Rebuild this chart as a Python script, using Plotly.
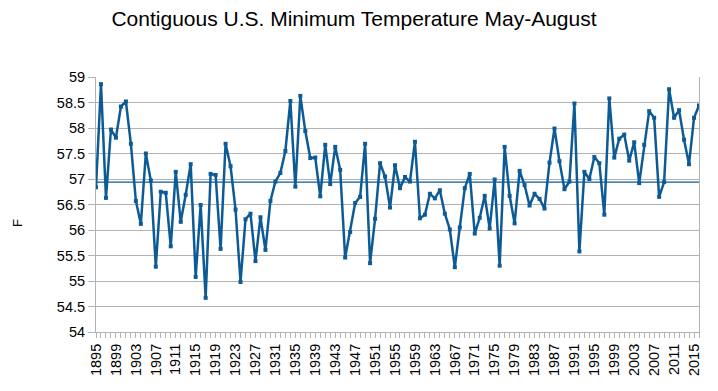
import plotly.graph_objects as go

start_year = 1895
temps = [
    56.84, 58.86, 56.63, 57.97, 57.81, 58.42, 58.52, 57.69, 56.57, 56.12,
    57.50, 56.97, 55.28, 56.75, 56.73, 55.68, 57.14, 56.16, 56.69, 57.29,
    55.08, 56.49, 54.67, 57.10, 57.08, 55.63, 57.69, 57.25, 56.40, 54.98,
    56.21, 56.32, 55.39, 56.25, 55.61, 56.57, 56.95, 57.12, 57.55, 58.53,
    56.85, 58.63, 57.94, 57.41, 57.42, 56.66, 57.67, 56.90, 57.63, 57.18,
    55.46, 55.96, 56.53, 56.65, 57.69, 55.35, 56.22, 57.31, 57.05, 56.44,
    57.27, 56.82, 57.04, 56.95, 57.73, 56.23, 56.30, 56.71, 56.62, 56.78,
    56.32, 56.01, 55.27, 56.05, 56.82, 57.10, 55.93, 56.24, 56.67, 56.03,
    56.99, 55.30, 57.63, 56.67, 56.13, 57.16, 56.88, 56.48, 56.71, 56.61,
    56.42, 57.32, 57.99, 57.35, 56.80, 56.95, 58.48, 55.58, 57.14, 57.00,
    57.43, 57.31, 56.30, 58.58, 57.42, 57.79, 57.87, 57.36, 57.72, 56.92,
    57.67, 58.33, 58.20, 56.65, 56.94, 58.76, 58.20, 58.35, 57.77, 57.29,
    58.20, 58.44,
]
years = list(range(start_year, start_year + len(temps)))
mean_value = 56.94
label_years = [y for y in years if (y - start_year) % 4 == 0]
y_ticks = [54 + 0.5 * i for i in range(11)]

color = "#0d5b96"
grid = "#b3b3b3"
font = "Liberation Sans, Arial, sans-serif"

fig = go.Figure()
fig.add_trace(go.Scatter(
    x=years, y=[mean_value] * len(years), mode="lines",
    line=dict(color=color, width=1.3), hoverinfo="skip", showlegend=False,
))
fig.add_trace(go.Scatter(
    x=years, y=temps, mode="lines+markers",
    line=dict(color=color, width=2.5),
    marker=dict(color=color, size=4, symbol="square"),
    showlegend=False,
))

fig.update_layout(
    width=718, height=391,
    margin=dict(l=88, r=27, t=69, b=67),
    paper_bgcolor="white", plot_bgcolor="white",
    font=dict(family=font, size=14.5, color="black"),
    title=dict(text="Contiguous U.S. Minimum Temperature May-August",
               x=346 / 718, xref="container", xanchor="center",
               y=1 - 11 / 391, yanchor="middle",
               font=dict(size=21, family=font, color="black")),
    xaxis=dict(
        range=[start_year, years[-1]],
        tickmode="array", tickvals=label_years, ticktext=[str(y) for y in label_years],
        tickangle=-90, ticks="outside", ticklen=5, tickcolor=grid,
        minor=dict(dtick=1, ticks="outside", ticklen=5, tickcolor=grid, showgrid=False),
        showgrid=False, showline=True, linecolor=grid, linewidth=1,
        zeroline=False, tickfont=dict(size=14.5),
    ),
    yaxis=dict(
        range=[54, 59], tickmode="array", tickvals=y_ticks,
        ticktext=[f"{v:g}" for v in y_ticks],
        ticks="outside", ticklen=7, tickcolor=grid,
        showgrid=True, gridcolor=grid, gridwidth=1,
        showline=True, linecolor=grid, linewidth=1, mirror=True,
        zeroline=False, tickfont=dict(size=14.5),
    ),
    annotations=[dict(
        text="F", textangle=-90, xref="paper", yref="paper",
        x=-(88 - 9) / 603, y=(391 - 67 - 215) / 255, xanchor="center", yanchor="middle",
        showarrow=False, font=dict(size=13, family=font, color="black"),
    )],
)

fig.write_html("out.html")
